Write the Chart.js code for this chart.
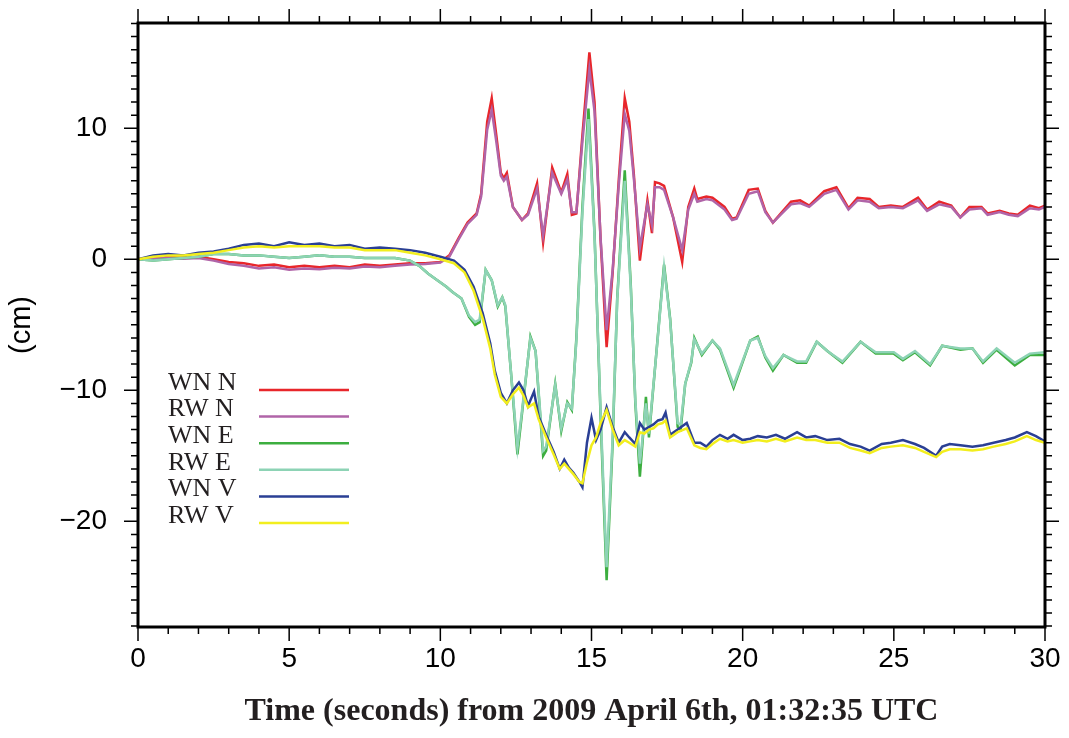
<!DOCTYPE html>
<html>
<head>
<meta charset="utf-8">
<script src="https://cdn.jsdelivr.net/npm/chart.js@4"></script>
<style>
  html, body { margin: 0; padding: 0; background: #fff; }
  #wrap { width: 1069px; height: 738px; }
</style>
</head>
<body>
<div id="wrap"><canvas id="gpsChart"></canvas></div>
<script>
// time axis (s) for each component
const tN = [0, 0.5, 1, 1.5, 2, 2.5, 3, 3.5, 4, 4.5, 5, 5.5, 6, 6.5, 7, 7.5, 8, 8.5, 9, 9.5,
  10, 10.3, 10.6, 10.9, 11.2, 11.35, 11.55, 11.7, 11.85, 12.0, 12.1, 12.2, 12.4, 12.7, 12.9, 13.2,
  13.4, 13.7, 14.0, 14.2, 14.35, 14.5, 14.7, 14.93, 15.1, 15.3, 15.5, 15.7, 15.9, 16.1, 16.25, 16.4,
  16.6, 16.85, 17.0, 17.1, 17.25, 17.4, 17.7, 18.0, 18.2, 18.4, 18.5, 18.8, 19.0, 19.4, 19.65, 19.8,
  20.2, 20.5, 20.75, 21.0, 21.3, 21.6, 21.9, 22.2, 22.7, 23.1, 23.5, 23.8, 24.2, 24.5, 24.9, 25.3,
  25.8, 26.1, 26.5, 26.9, 27.2, 27.5, 27.9, 28.1, 28.5, 28.8, 29.1, 29.5, 29.8, 30];
const wnN = [0, 0.1, 0.2, 0.1, 0.2, 0.0, -0.2, -0.3, -0.5, -0.4, -0.6, -0.5, -0.6, -0.5, -0.6, -0.4, -0.5, -0.4, -0.3, -0.3,
  -0.2, 0.3, 1.6, 2.8, 3.5, 5.0, 10.5, 12.3, 9.5, 6.6, 6.2, 6.6, 4.0, 3.0, 3.5, 5.8,
  1.3, 7.0, 5.1, 6.5, 3.4, 3.5, 9.5, 15.8, 12.0, 1.5, -6.7, -1.0, 6.0, 12.3, 10.5, 6.5,
  -0.1, 4.5, 2.0, 5.9, 5.8, 5.6, 3.2, -0.2, 4.0, 5.4, 4.6, 4.8, 4.7, 4.0, 3.1, 3.2,
  5.3, 5.4, 3.7, 2.8, 3.6, 4.4, 4.5, 4.1, 5.2, 5.5, 3.9, 4.7, 4.6, 4.0, 4.1, 4.0,
  4.7, 3.8, 4.4, 4.1, 3.2, 4.0, 4.0, 3.5, 3.7, 3.5, 3.4, 4.1, 3.9, 4.1];
const rwN = [0, 0.05, 0.1, 0.05, 0.1, -0.1, -0.35, -0.5, -0.7, -0.6, -0.8, -0.7, -0.75, -0.65, -0.7, -0.55, -0.6, -0.5, -0.4, -0.35,
  -0.25, 0.2, 1.5, 2.7, 3.4, 4.8, 9.9, 11.4, 9.0, 6.4, 6.0, 6.3, 4.0, 3.0, 3.4, 5.4,
  1.8, 6.6, 5.0, 6.1, 3.6, 3.6, 9.0, 14.5, 11.3, 1.6, -5.4, -0.8, 5.6, 11.1, 9.8, 6.2,
  0.9, 4.2, 2.6, 5.5, 5.5, 5.3, 3.2, 0.7, 3.8, 5.0, 4.4, 4.6, 4.5, 3.8, 3.0, 3.1,
  5.0, 5.2, 3.6, 2.8, 3.5, 4.2, 4.3, 4.0, 5.0, 5.3, 3.8, 4.5, 4.4, 3.9, 4.0, 3.9,
  4.5, 3.7, 4.2, 4.0, 3.2, 3.8, 3.9, 3.4, 3.6, 3.4, 3.3, 3.9, 3.8, 4.0];

const tE = [0, 0.5, 1, 1.5, 2, 2.5, 3, 3.5, 4, 4.5, 5, 5.5, 6, 6.5, 7, 7.5, 8, 8.5, 9, 9.3,
  9.6, 9.9, 10.2, 10.4, 10.7, 10.95, 11.15, 11.3, 11.5, 11.7, 11.9, 12.05, 12.15, 12.35, 12.55, 12.7,
  12.98, 13.15, 13.4, 13.5, 13.8, 14.0, 14.2, 14.35, 14.5, 14.7, 14.9, 15.1, 15.3, 15.5, 15.7, 15.85,
  16.1, 16.3, 16.45, 16.6, 16.7, 16.8, 16.9, 17.2, 17.4, 17.6, 17.85, 17.95, 18.1, 18.3, 18.4, 18.65,
  19.0, 19.25, 19.7, 20.25, 20.5, 20.75, 21.0, 21.35, 21.8, 22.1, 22.45, 22.8, 23.3, 23.9, 24.4, 25.0,
  25.3, 25.7, 26.2, 26.6, 27.2, 27.6, 27.95, 28.4, 29.0, 29.5, 30];
const wnE = [0, -0.1, 0.0, 0.1, 0.2, 0.4, 0.4, 0.3, 0.3, 0.2, 0.1, 0.2, 0.3, 0.2, 0.2, 0.1, 0.1, 0.1, -0.1, -0.5,
  -1.1, -1.6, -2.1, -2.5, -3.0, -4.4, -5.0, -4.8, -0.8, -1.6, -3.6, -2.9, -3.6, -9.0, -14.9, -11.8,
  -5.9, -7.0, -15.0, -14.6, -9.5, -13.1, -10.9, -11.5, -6.0, 4.0, 11.5, 2.0, -12.0, -24.5, -14.0, -3.0,
  6.8, -2.0, -11.0, -16.6, -13.6, -10.5, -13.6, -5.7, -0.4, -4.5, -12.8, -13.0, -9.5, -7.9, -6.0, -7.3,
  -6.2, -6.9, -9.8, -6.2, -5.9, -7.5, -8.5, -7.3, -7.9, -7.9, -6.3, -7.0, -7.9, -6.3, -7.2, -7.2,
  -7.7, -7.1, -8.1, -6.6, -6.9, -6.8, -7.9, -6.9, -8.1, -7.3, -7.3];
const rwE = [0, -0.1, 0.0, 0.1, 0.2, 0.4, 0.4, 0.3, 0.3, 0.2, 0.1, 0.2, 0.3, 0.2, 0.2, 0.1, 0.1, 0.1, -0.1, -0.5,
  -1.1, -1.6, -2.1, -2.5, -3.0, -4.3, -4.8, -4.6, -0.8, -1.6, -3.5, -2.9, -3.5, -9.0, -14.4, -11.6,
  -6.0, -7.0, -14.6, -14.3, -9.6, -12.9, -11.0, -11.4, -6.2, 3.6, 10.7, 1.8, -11.6, -23.5, -13.6, -3.1,
  6.0, -2.2, -10.8, -15.6, -13.4, -11.0, -13.3, -5.8, -0.6, -4.6, -12.5, -12.6, -9.5, -7.8, -6.1, -7.2,
  -6.2, -6.8, -9.6, -6.2, -6.0, -7.4, -8.3, -7.3, -7.8, -7.8, -6.3, -7.0, -7.8, -6.3, -7.1, -7.1,
  -7.6, -7.0, -8.0, -6.6, -6.8, -6.8, -7.8, -6.8, -7.9, -7.2, -7.1];

const tV = [0, 0.5, 1, 1.5, 2, 2.5, 3, 3.5, 4, 4.5, 5, 5.5, 6, 6.5, 7, 7.5, 8, 8.5, 9, 9.5,
  10, 10.45, 10.8, 11.1, 11.4, 11.65, 11.8, 12.0, 12.2, 12.4, 12.6, 12.75, 12.9, 13.1, 13.25, 13.5,
  13.75, 13.95, 14.1, 14.25, 14.4, 14.6, 14.7, 14.85, 15.0, 15.15, 15.3, 15.5, 15.7, 15.9, 16.1, 16.25,
  16.45, 16.6, 16.75, 16.9, 17.05, 17.2, 17.35, 17.45, 17.6, 17.85, 18.15, 18.4, 18.6, 18.8, 19.0, 19.25,
  19.5, 19.7, 20.0, 20.25, 20.5, 20.8, 21.1, 21.4, 21.8, 22.1, 22.4, 22.8, 23.2, 23.55, 23.9, 24.2,
  24.6, 24.9, 25.3, 25.7, 26.0, 26.4, 26.6, 26.85, 27.2, 27.6, 27.95, 28.3, 28.7, 29.0, 29.4, 29.7, 30];
const wnV = [0, 0.3, 0.4, 0.3, 0.5, 0.6, 0.8, 1.1, 1.2, 1.0, 1.3, 1.1, 1.2, 1.0, 1.1, 0.8, 0.9, 0.8, 0.7, 0.5,
  0.2, -0.1, -0.8, -2.1, -4.1, -6.4, -8.5, -10.2, -11.0, -10.0, -9.4, -10.0, -11.2, -10.1, -12.0, -13.4,
  -14.7, -16.0, -15.3, -15.9, -16.3, -17.0, -17.4, -14.0, -12.1, -13.8, -13.0, -11.3, -12.8, -14.0, -13.2, -13.6,
  -14.1, -12.5, -13.0, -12.8, -12.6, -12.3, -12.2, -11.7, -13.4, -13.0, -12.5, -14.0, -14.0, -14.3, -13.8, -13.4,
  -13.7, -13.4, -13.8, -13.7, -13.5, -13.6, -13.4, -13.7, -13.2, -13.6, -13.5, -13.8, -13.7, -14.1, -14.3, -14.6,
  -14.1, -14.0, -13.8, -14.1, -14.4, -15.0, -14.3, -14.1, -14.2, -14.3, -14.2, -14.0, -13.8, -13.6, -13.2, -13.5, -13.9];
const rwV = [0, 0.2, 0.3, 0.3, 0.4, 0.5, 0.7, 0.9, 1.0, 0.9, 1.0, 1.0, 1.0, 0.9, 0.9, 0.7, 0.7, 0.7, 0.5, 0.3,
  0.0, -0.3, -1.0, -2.4, -4.5, -6.8, -8.8, -10.5, -11.0, -10.3, -9.8, -10.4, -11.3, -11.0, -12.2, -13.6,
  -14.9, -16.0, -15.6, -16.0, -16.4, -17.0, -17.1, -15.5, -14.2, -13.6, -12.5, -11.5, -13.0, -14.2, -13.8, -14.0,
  -14.3, -13.2, -13.3, -13.0, -12.9, -12.6, -12.5, -12.3, -13.6, -13.2, -12.9, -14.2, -14.4, -14.5, -14.1, -13.7,
  -13.9, -13.8, -14.0, -13.9, -13.8, -13.9, -13.7, -13.9, -13.6, -13.8, -13.8, -14.0, -14.0, -14.4, -14.6, -14.8,
  -14.4, -14.3, -14.2, -14.4, -14.7, -15.1, -14.7, -14.5, -14.5, -14.6, -14.5, -14.3, -14.1, -13.9, -13.5, -13.8, -14.0];

const seriesNames = ['WN N', 'RW N', 'WN E', 'RW E', 'WN V', 'RW V'];
const seriesColors = ['#e8262b', '#b064a8', '#3cae3f', '#8dd3b5', '#2a3f94', '#f2ee1e'];
const xTicks = [0, 5, 10, 15, 20, 25, 30];
const yTicks = [-20, -10, 0, 10];

function pts(t, v) { return t.map((x, i) => ({ x: x, y: v[i] })); }

const seriesData = [pts(tN, wnN), pts(tN, rwN), pts(tE, wnE), pts(tE, rwE), pts(tV, wnV), pts(tV, rwV)];

// frame with outward major / minor ticks on all four sides
const framePlugin = {
  id: 'frame',
  afterDraw(chart) {
    const { ctx, chartArea: a, scales: { x, y } } = chart;
    ctx.save();
    ctx.strokeStyle = '#000';
    ctx.lineWidth = 1.5;
    for (let v = 0; v <= 30; v++) {
      const px = x.getPixelForValue(v);
      const len = v % 5 === 0 ? 14 : 7;
      ctx.beginPath();
      ctx.moveTo(px, a.bottom); ctx.lineTo(px, a.bottom + len);
      ctx.moveTo(px, a.top); ctx.lineTo(px, a.top - len);
      ctx.stroke();
    }
    for (let v = -28; v <= 18; v++) {
      const py = y.getPixelForValue(v);
      const len = v % 10 === 0 ? 14 : 7;
      ctx.beginPath();
      ctx.moveTo(a.left, py); ctx.lineTo(a.left - len, py);
      ctx.moveTo(a.right, py); ctx.lineTo(a.right + len, py);
      ctx.stroke();
    }
    ctx.lineWidth = 3;
    ctx.strokeRect(a.left, a.top, a.right - a.left, a.bottom - a.top);
    ctx.restore();
  }
};

// in-plot legend: label text, then a short line sample
const legendPlugin = {
  id: 'inLegend',
  afterDatasetsDraw(chart) {
    const { ctx, chartArea: a } = chart;
    ctx.save();
    ctx.font = '26px "Liberation Serif"';
    ctx.fillStyle = '#231f20';
    ctx.textBaseline = 'middle';
    seriesNames.forEach((name, i) => {
      const ly = a.top + 367 + i * 26.6;
      ctx.fillText(name, a.left + 30, ly - 7);
      ctx.strokeStyle = seriesColors[i];
      ctx.lineWidth = 2.5;
      ctx.beginPath();
      ctx.moveTo(a.left + 121, ly);
      ctx.lineTo(a.left + 211, ly);
      ctx.stroke();
    });
    ctx.restore();
  }
};

new Chart(document.getElementById('gpsChart'), {
  type: 'line',
  data: {
    datasets: seriesNames.map((name, i) => ({
      label: name,
      data: seriesData[i],
      borderColor: seriesColors[i],
      borderWidth: 2.5,
      pointRadius: 0,
      tension: 0,
      fill: false,
      order: 6 - i
    }))
  },
  options: {
    responsive: true,
    maintainAspectRatio: false,
    animation: false,
    layout: { padding: { top: 23, right: 24, left: 0, bottom: 0 } },
    plugins: { legend: { display: false }, tooltip: { enabled: false } },
    scales: {
      x: {
        type: 'linear',
        min: 0,
        max: 30,
        afterFit: s => { s.height = 111; s.paddingLeft = 0; s.paddingRight = 0; },
        afterBuildTicks: s => { s.ticks = xTicks.map(v => ({ value: v })); },
        grid: { display: false, drawTicks: false },
        border: { display: false },
        ticks: { color: '#000', padding: 15, font: { family: '"Liberation Sans"', size: 28 } },
        title: {
          display: true,
          text: 'Time (seconds) from 2009 April 6th, 01:32:35 UTC',
          color: '#231f20',
          font: { family: '"Liberation Serif"', size: 32, weight: 'bold' },
          padding: { top: 0, bottom: 7 }
        }
      },
      y: {
        type: 'linear',
        min: -28.07,
        max: 18.04,
        afterFit: s => { s.width = 138; s.paddingTop = 0; s.paddingBottom = 0; },
        afterBuildTicks: s => { s.ticks = yTicks.map(v => ({ value: v })); },
        grid: { display: false, drawTicks: false },
        border: { display: false },
        ticks: {
          color: '#000',
          padding: 31,
          font: { family: '"Liberation Sans"', size: 28 },
          callback: v => (v < 0 ? '\u2212' + Math.abs(v) : String(v))
        },
        title: {
          display: true,
          text: '(cm)',
          color: '#000',
          font: { family: '"Liberation Sans"', size: 29 },
          padding: { top: 5, bottom: 0 }
        }
      }
    }
  },
  plugins: [framePlugin, legendPlugin]
});
</script>
</body>
</html>
